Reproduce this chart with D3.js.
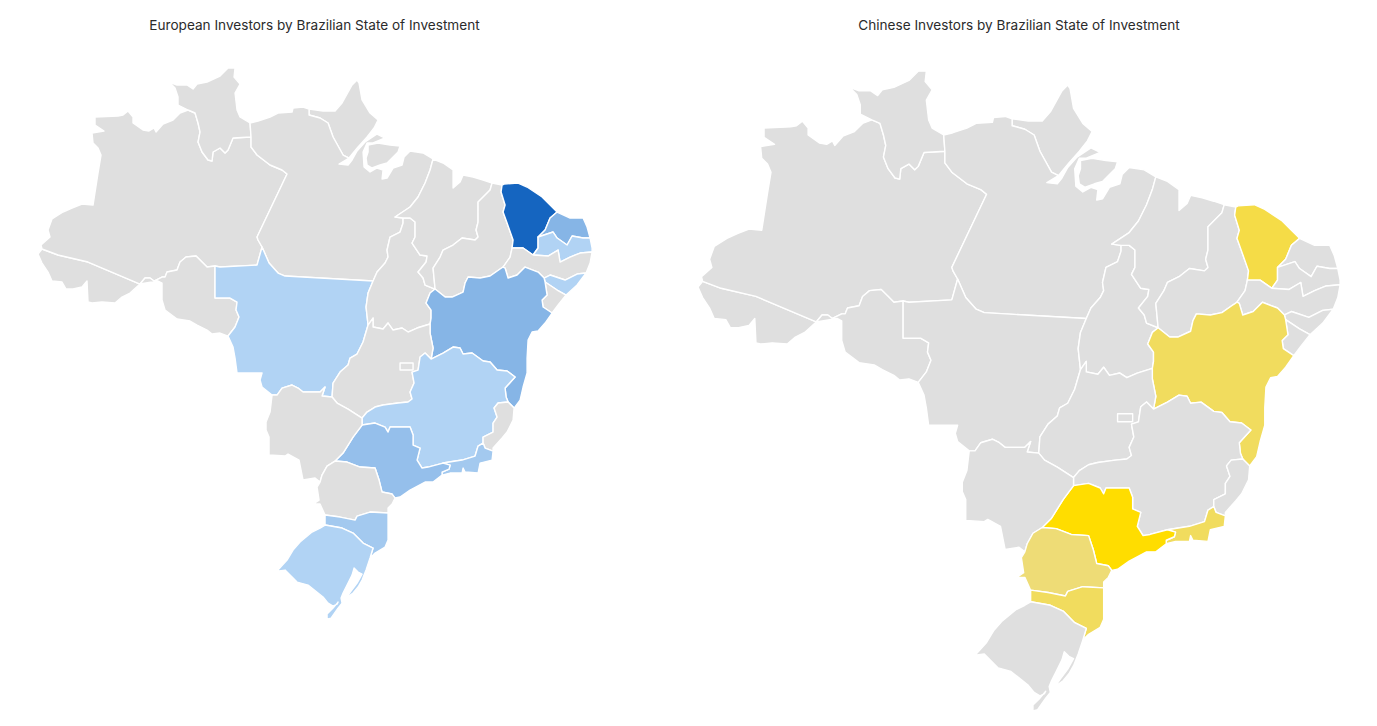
<!DOCTYPE html>
<html>
<head>
<meta charset="utf-8">
<script src="https://cdn.jsdelivr.net/npm/d3@7"></script>
<style>
  body { margin: 0; background: #fff; }
  text { font-family: Inter, "Noto Sans", sans-serif; }
</style>
</head>
<body>
<svg id="canvas" width="1377" height="726"></svg>
<script>
// investor counts per state
let stateIds =        ['AC','AM','RR','AP','PA','RO','MT','TO','MA','PI','CE','RN','PB','PE','AL','SE','BA','GO','DF','MG','ES','RJ','SP','MS','PR','SC','RS']
let europeanValues =  [0,   0,   0,   0,   0,   0,   1,   0,   0,   0,   12,  4,   1,   0,   1,   0,   4,   0,   0,   1,   0,   2,   3,   0,   0,   2,   1]
let chineseValues =   [0,   0,   0,   0,   0,   0,   0,   0,   0,   0,   3,   0,   0,   0,   0,   0,   2,   0,   0,   0,   0,   2,   6,   0,   1,   2,   0]

let titles = ['European Investors by Brazilian State of Investment', 'Chinese Investors by Brazilian State of Investment']

// quantized outlines, topojson style: integers + transform give lon/lat
let mapTransform = { scale: [0.07077, -0.07057], translate: [-76.689, 9.998] }

let arcs = {
  ac_am: [[42,249],[58,255],[88,262],[140,284]],
  ac_coast: [[140,284],[130,293],[122,297],[115,303],[102,302],[92,303],[88,302],[87,281],[82,287],[73,289],[66,289],[62,282],[52,281],[48,272],[42,263],[38,254],[42,249]],
  am_ro: [[215,266],[207,267],[203,263],[196,256],[186,257],[180,262],[177,270],[167,272],[165,277],[162,277],[154,281],[150,278],[145,278],[140,284]],
  ro_coast: [[140,284],[158,281],[162,283],[162,300],[165,310],[177,319],[190,321],[197,325],[207,330],[212,334],[220,333],[228,336]],
  ro_mt: [[228,336],[235,327],[239,317],[236,310],[237,302],[230,298],[220,298],[215,298],[215,266]],
  am_coast: [[42,249],[41,245],[50,237],[48,230],[52,219],[63,212],[72,208],[82,204],[93,205],[98,173],[101,155],[98,148],[93,143],[92,133],[104,131],[95,125],[95,117],[118,116],[123,115],[128,111],[133,117],[133,123],[143,130],[149,131],[154,128],[156,132],[163,124],[173,120],[180,113],[188,110]],
  am_rr: [[188,110],[195,113],[198,123],[200,132],[198,142],[202,152],[208,160],[212,161],[213,152],[220,148],[225,153],[228,150],[233,138],[251,137]],
  am_pa: [[251,137],[251,147],[257,155],[270,165],[282,170],[287,174],[257,237],[258,240],[262,247]],
  am_mt: [[262,247],[257,265],[220,267],[215,266]],
  rr_coast: [[188,110],[178,105],[178,97],[175,88],[169,82],[177,85],[187,85],[193,89],[197,84],[207,82],[220,76],[228,68],[235,68],[234,77],[240,84],[235,93],[237,110],[240,117],[250,123]],
  pa_rr: [[250,123],[251,137]],
  pa_coast1: [[250,123],[258,121],[270,117],[278,113],[292,112],[293,108],[303,107],[309,109]],
  ap_pa: [[309,109],[309,115],[320,118],[328,123],[333,137],[343,155],[349,158]],
  ap_coast: [[309,109],[323,111],[335,111],[342,103],[352,85],[357,80],[359,83],[362,100],[370,113],[378,120],[374,128],[367,137],[358,147],[353,153],[349,158]],
  pa_coast2: [[349,158],[339,164],[348,165],[352,160],[357,151],[365,142],[377,134],[385,138],[373,143],[367,143],[363,152],[364,167],[370,172],[377,168],[383,170],[382,179],[387,178],[393,168],[402,165],[404,157],[410,151],[423,153],[433,159]],
  pa_ma: [[433,159],[430,170],[425,183],[418,197],[410,207],[395,217],[403,218]],
  pa_to: [[403,218],[403,223],[400,232],[390,237],[387,250],[388,257],[385,263],[377,272],[373,281]],
  pa_mt: [[262,247],[269,263],[278,273],[285,276],[373,281]],
  mt_to: [[373,281],[368,293],[366,307],[368,325]],
  mt_go: [[368,325],[363,342],[357,354],[350,358],[348,365],[340,372],[333,383],[332,397]],
  mt_ms: [[332,397],[322,396],[325,387],[320,392],[310,392],[303,392],[298,388],[292,385],[282,388],[277,395],[272,395]],
  mt_coast: [[272,395],[262,387],[260,380],[262,373],[237,373],[235,358],[233,347],[228,336]],
  to_go: [[368,325],[373,318],[373,327],[383,329],[388,323],[393,330],[402,328],[408,332],[417,328],[430,324]],
  to_ba: [[435,289],[430,293],[426,303],[431,310],[431,318],[430,324]],
  to_ma: [[403,218],[410,218],[415,222],[415,237],[412,243],[420,255],[427,256],[426,262],[418,272],[423,278],[425,285],[435,289]],
  ma_coast: [[433,159],[443,163],[453,170],[453,188],[460,182],[463,175],[473,177],[483,180],[492,183]],
  ma_pi: [[492,183],[490,190],[478,202],[478,222],[476,230],[478,237],[475,240],[462,238],[453,245],[443,250],[440,257],[433,268],[435,289]],
  pi_coast: [[492,183],[502,185]],
  pi_ce: [[502,185],[501,192],[505,205],[503,212],[507,223],[513,240],[512,248]],
  pi_pe: [[503,267],[510,257],[512,248]],
  pi_ba: [[435,289],[445,297],[452,297],[463,292],[465,283],[468,277],[480,278],[490,276],[500,269],[503,267]],
  ce_coast: [[502,185],[504,184],[518,183],[527,187],[542,197],[550,205],[557,212]],
  ce_rn: [[557,212],[550,218],[545,230],[538,237]],
  ce_pb: [[538,237],[538,248],[533,255]],
  ce_pe: [[533,255],[523,248],[512,248]],
  rn_coast: [[557,212],[570,218],[583,218],[587,227],[590,238]],
  rn_pb: [[590,238],[583,238],[572,236],[567,245],[557,238],[553,232],[538,237]],
  pb_coast: [[590,238],[592,248],[592,252]],
  pb_pe: [[592,252],[580,253],[570,257],[560,262],[558,250],[548,256],[533,255]],
  pe_coast: [[592,252],[590,263],[586,273]],
  pe_al: [[586,273],[577,274],[565,280],[550,275],[544,278]],
  pe_ba: [[503,267],[505,268],[508,278],[517,275],[525,267],[538,272],[544,278]],
  al_coast: [[586,273],[577,285],[566,295]],
  al_se: [[566,295],[557,290],[545,282]],
  al_ba: [[544,278],[545,282]],
  se_coast: [[566,295],[558,305],[552,313]],
  se_ba: [[552,313],[543,307],[542,300],[547,295],[545,282]],
  ba_coast: [[552,313],[545,323],[538,331],[532,332],[528,340],[527,358],[527,373],[523,387],[520,400],[514,408]],
  es_ba: [[514,408],[508,402]],
  ba_mg: [[508,402],[506,397],[505,388],[515,377],[507,371],[497,370],[490,362],[483,361],[472,353],[463,354],[460,348],[453,347],[443,353],[431,359]],
  ba_go: [[431,359],[433,348],[430,333],[430,324]],
  go_mg: [[431,359],[425,353],[420,357],[418,370],[412,372],[414,383],[410,392],[412,399],[408,402],[398,403],[383,405],[375,407],[367,412],[362,418]],
  go_ms: [[332,397],[337,403],[348,409],[362,418]],
  ms_mg: [[362,418],[362,425]],
  ms_sp: [[362,425],[353,437],[348,445],[343,453],[335,461]],
  ms_pr: [[335,461],[327,466],[322,475],[320,482]],
  ms_coast: [[272,395],[270,412],[266,422],[266,430],[269,437],[269,455],[285,456],[288,454],[299,460],[303,480],[315,478],[320,482]],
  mg_sp: [[362,425],[375,423],[385,427],[388,432],[390,427],[410,427],[413,435],[413,445],[420,448],[417,460],[422,468],[428,467],[443,463]],
  mg_rj: [[443,463],[462,460],[475,456],[478,446],[483,443]],
  mg_es: [[483,443],[483,437],[493,432],[493,423],[497,417],[494,408],[498,403],[508,402]],
  es_coast: [[514,408],[513,420],[507,432],[502,438],[493,448],[493,451]],
  es_rj: [[493,451],[485,448],[483,443]],
  rj_coast: [[493,451],[492,460],[480,463],[478,473],[465,472],[463,468],[462,473],[450,473],[442,475]],
  rj_sp: [[442,475],[442,472],[449,469],[450,465],[443,463]],
  sp_coast: [[442,475],[433,482],[425,482],[410,490],[400,497],[395,498]],
  sp_pr: [[395,498],[392,494],[382,492],[379,480],[375,468],[360,467],[347,462],[335,461]],
  pr_coast: [[395,498],[392,504],[388,508],[388,513]],
  pr_sc: [[388,513],[370,512],[357,516],[355,520],[340,517],[325,515]],
  pr_west: [[325,515],[320,504],[313,504],[319,500],[317,487],[320,482]],
  sc_coast: [[388,513],[388,523],[388,540],[385,547],[375,553],[370,558]],
  sc_rs: [[370,558],[373,548],[363,543],[353,533],[342,528],[325,525]],
  sc_west: [[325,525],[325,515]],
  rs_coast: [[370,558],[366,570],[362,580],[358,587],[353,593],[346,598],[351,591],[357,583],[362,574],[358,572],[354,568],[352,575],[347,585],[343,593],[341,598],[342,603],[338,608],[331,618],[327,619],[327,614],[333,608],[338,602],[337,604],[333,606],[328,603],[323,597],[308,585],[297,582],[285,570],[277,571],[287,560],[293,550],[300,542],[312,532],[320,528],[325,525]],
  marajo: [[368,145],[378,143],[390,145],[400,146],[398,152],[393,157],[387,163],[380,165],[372,168],[367,165],[366,158],[368,152],[368,145]],
  df: [[400,363],[413,363],[413,370],[400,370],[400,363]]
}

// '-' in front of an arc name means walk it backwards
let stateRings = {
  AC: [['ac_am','ac_coast']],
  AM: [['am_coast','am_rr','am_pa','am_mt','am_ro','-ac_am']],
  RR: [['rr_coast','pa_rr','-am_rr']],
  AP: [['ap_coast','-ap_pa']],
  PA: [['pa_coast1','ap_pa','pa_coast2','pa_ma','pa_to','-pa_mt','-am_pa','-pa_rr'], ['marajo']],
  RO: [['am_ro','ro_coast','ro_mt']],
  MT: [['pa_mt','mt_to','mt_go','mt_ms','mt_coast','ro_mt','-am_mt']],
  TO: [['pa_to','mt_to','to_go','-to_ba','-to_ma']],
  MA: [['ma_coast','ma_pi','-to_ma','-pa_ma']],
  PI: [['pi_coast','pi_ce','-pi_pe','-pi_ba','-ma_pi']],
  CE: [['ce_coast','ce_rn','ce_pb','ce_pe','-pi_ce']],
  RN: [['rn_coast','rn_pb','-ce_rn']],
  PB: [['pb_coast','pb_pe','-ce_pb','-rn_pb']],
  PE: [['pe_coast','pe_al','-pe_ba','pi_pe','-ce_pe','-pb_pe']],
  AL: [['al_coast','al_se','-al_ba','-pe_al']],
  SE: [['se_coast','se_ba','-al_se']],
  BA: [['pi_ba','pe_ba','al_ba','-se_ba','ba_coast','es_ba','ba_mg','ba_go','-to_ba']],
  GO: [['to_go','-ba_go','go_mg','-go_ms','-mt_go']],
  DF: [['df']],
  MG: [['-ba_mg','-mg_es','-mg_rj','-mg_sp','-ms_mg','-go_mg']],
  ES: [['-es_ba','es_coast','es_rj','mg_es']],
  RJ: [['-es_rj','rj_coast','rj_sp','mg_rj']],
  SP: [['mg_sp','-rj_sp','sp_coast','sp_pr','-ms_sp']],
  MS: [['-mt_ms','go_ms','ms_mg','ms_sp','ms_pr','-ms_coast']],
  PR: [['-sp_pr','pr_coast','pr_sc','pr_west','-ms_pr']],
  SC: [['-pr_sc','sc_coast','sc_rs','sc_west']],
  RS: [['rs_coast','-sc_rs']]
}

let toLonLat = (p) => [
  p[0] * mapTransform.scale[0] + mapTransform.translate[0],
  p[1] * mapTransform.scale[1] + mapTransform.translate[1]
]

let buildRing = (names) => {
  let ring = []
  names.forEach((name) => {
    let back = name[0] === '-'
    let pts = arcs[back ? name.slice(1) : name].slice()
    if (back) pts.reverse()
    if (ring.length) pts = pts.slice(1)
    ring = ring.concat(pts)
  })
  return ring.map(toLonLat)
}

let features = stateIds.map((id) => {
  return {
    type: 'Feature',
    id: id,
    geometry: { type: 'MultiPolygon', coordinates: stateRings[id].map((r) => [buildRing(r)]) }
  }
})

let svg = d3.select('#canvas')

let drawMap = (cfg) => {
  let x = d3.scaleLinear().domain([-74, -34.8]).range(cfg.xRange)
  let y = d3.scaleLinear().domain([5.27, -33.75]).range(cfg.yRange)
  // planar projection, the outlines are already flat
  let projection = d3.geoTransform({
    point: function (lon, lat) { this.stream.point(x(lon), y(lat)) }
  })
  let path = d3.geoPath(projection)

  svg.append('text')
    .attr('x', cfg.titleX)
    .attr('y', 30)
    .attr('text-anchor', 'middle')
    .style('font-size', '13.6px')
    .style('fill', '#2b2b2b')
    .text(cfg.title)

  svg.append('g').selectAll('path')
    .data(features)
    .enter()
    .append('path')
    .attr('d', path)
    .attr('fill', (d, i) => {
      let v = cfg.values[i]
      return v > 0 ? cfg.color(v) : '#dfdfdf'
    })
    .attr('stroke', '#fff')
    .attr('stroke-width', 1.4)
    .attr('stroke-linejoin', 'round')
}

drawMap({
  title: titles[0],
  titleX: 314.5,
  xRange: [38, 592],
  yRange: [67, 620],
  values: europeanValues,
  color: d3.scaleLinear().domain([1, 12]).range(['#b1d3f4', '#1565c0'])
})

drawMap({
  title: titles[1],
  titleX: 1019,
  xRange: [698, 1340],
  yRange: [70, 712],
  values: chineseValues,
  color: d3.scaleLinear().domain([1, 6]).range(['#eedc76', '#ffdd00'])
})
</script>
</body>
</html>
